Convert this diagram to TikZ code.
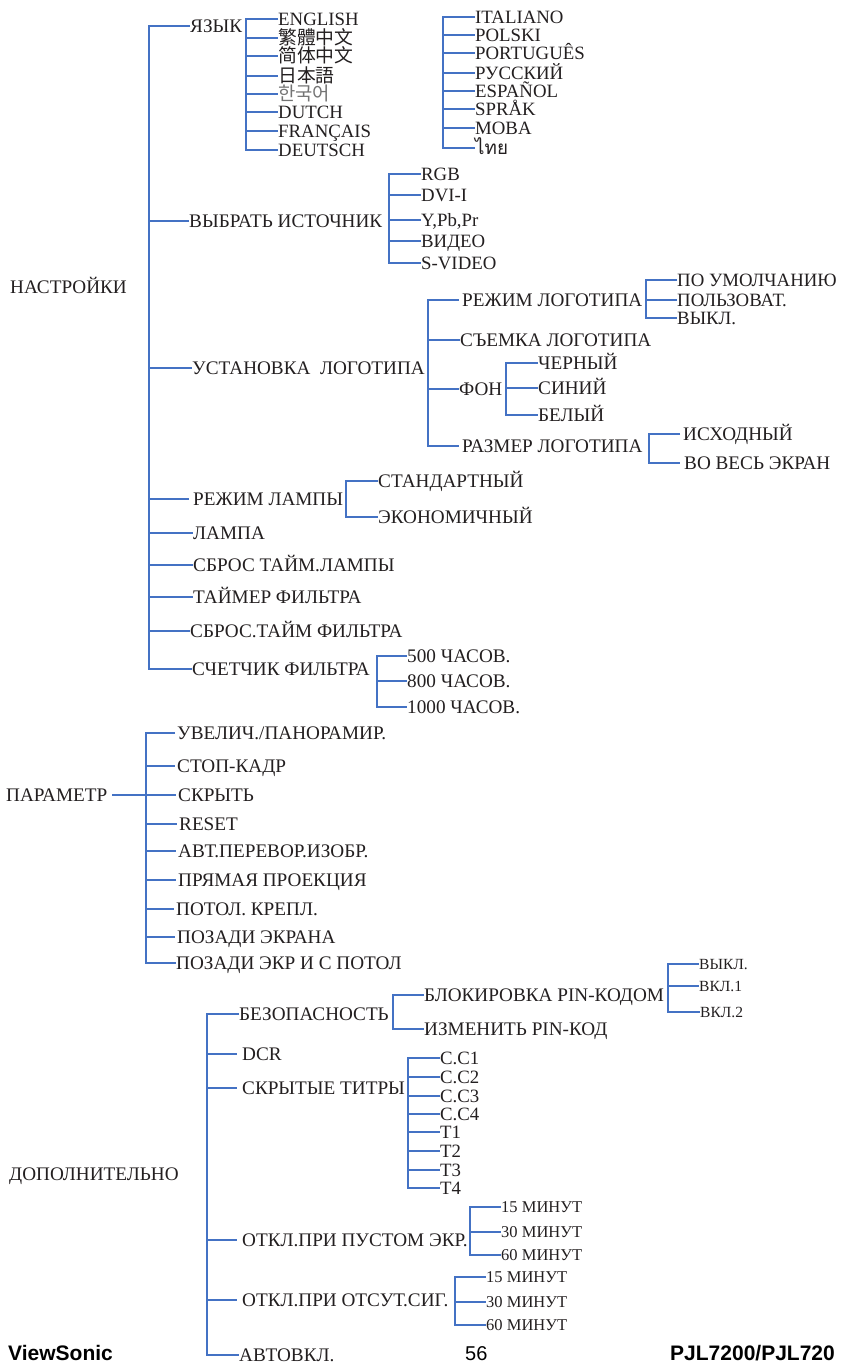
\documentclass[tikz,border=0pt]{standalone}
\usepackage{fontspec}
\setmainfont{Liberation Serif}
\newfontfamily\footsans{Liberation Sans}
\newfontfamily\cjkTC{Noto Sans CJK TC}
\newfontfamily\cjkSC{Noto Sans CJK SC}
\newfontfamily\cjkJP{Noto Sans CJK JP}
\newfontfamily\cjkKR{Noto Sans CJK KR}
\newfontfamily\thaiF[Script=Thai]{Loma}
\definecolor{lblue}{RGB}{68,114,196}
\definecolor{txt}{RGB}{35,31,32}
\newcommand\fMain{\fontsize{19.2}{21}\selectfont}
\newcommand\fList{\fontsize{18.8}{20}\selectfont}
\newcommand\fSmall{\fontsize{15.5}{17}\selectfont}
\newcommand\fMin{\fontsize{16.5}{18}\selectfont}
\newcommand\fFoot{\fontsize{21}{24}\selectfont}
\tikzset{
  t/.style={anchor=west, inner sep=0pt, text height=12.7pt, text depth=0pt, font=\fMain, text=txt},
  tl/.style={t, font=\fList, text height=12.4pt},
  ts/.style={t, font=\fSmall, text height=10.3pt},
  tm/.style={t, font=\fMin, text height=10.9pt},
  tf/.style={anchor=west, inner sep=0pt, text height=15pt, text depth=0pt, font=\fFoot\footsans, text=black},
  br/.style={draw=lblue, line width=1.8pt},
}
\begin{document}
\begin{tikzpicture}[x=1pt,y=-1pt]
\useasboundingbox (0,0) rectangle (840,1364);

% ---------------- НАСТРОЙКИ ----------------
\node[t] (nas) at (10,287) {НАСТРОЙКИ};
\node[t] (lang) at (190,26) {ЯЗЫК};
\node[t] (src) at (189,221) {ВЫБРАТЬ ИСТОЧНИК};
\node[t] (logo) at (192,368) {УСТАНОВКА\ \ ЛОГОТИПА};
\node[t] (lmode) at (193,499) {РЕЖИМ ЛАМПЫ};
\node[t] (lamp) at (193,533) {ЛАМПА};
\node[t] (lreset) at (193,565) {СБРОС ТАЙМ.ЛАМПЫ};
\node[t] (ftimer) at (193,597) {ТАЙМЕР ФИЛЬТРА};
\node[t] (freset) at (190,631) {СБРОС.ТАЙМ ФИЛЬТРА};
\node[t] (fcount) at (192,669) {СЧЕТЧИК ФИЛЬТРА};
\coordinate (vA) at (149,0);
\draw[br] (lang.west) -| (vA |- fcount.west) -- (fcount.west);
\foreach \n in {src,logo,lamp,lreset,ftimer,freset} \draw[br] (vA |- \n.west) -- (\n.west);
\draw[br] (vA |- lmode.west) -- ([xshift=-4pt]lmode.west);

% language column 1
\node[tl] (en) at (278,19) {ENGLISH};
\node[tl] (tw) at (278,38) {\cjkTC 繁體中文};
\node[tl] (cn) at (278,56) {\cjkSC 简体中文};
\node[tl] (jp) at (278,76) {\cjkJP 日本語};
\node[tl, text=black!55] (kr) at (278,94) {\cjkKR 한국어};
\node[tl] (du) at (278,112) {DUTCH};
\node[tl] (fr) at (278,131) {FRANÇAIS};
\node[tl] (de) at (278,150) {DEUTSCH};
\coordinate (bL1) at (246,0);
\draw[br] (en.west) -| (bL1 |- de.west) -- (de.west);
\foreach \n in {tw,cn,jp,kr,du,fr} \draw[br] (bL1 |- \n.west) -- (\n.west);

% language column 2
\node[tl] (it) at (475,17) {ITALIANO};
\node[tl] (pl) at (475,35) {POLSKI};
\node[tl] (pt) at (475,53) {PORTUGUÊS};
\node[tl] (ru) at (475,73) {РУССКИЙ};
\node[tl] (es) at (475,91) {ESPAÑOL};
\node[tl] (sv) at (475,109) {SPRÅK};
\node[tl] (mo) at (475,128) {MOBA};
\node[tl] (th) at (475,148) {\thaiF ไทย};
\coordinate (bL2) at (443,0);
\draw[br] (it.west) -| (bL2 |- th.west) -- (th.west);
\foreach \n in {pl,pt,ru,es,sv,mo} \draw[br] (bL2 |- \n.west) -- (\n.west);

% source
\node[tl] (rgb) at (421,174) {RGB};
\node[tl] (dvi) at (421,195) {DVI-I};
\node[tl] (ypb) at (421,220) {Y,Pb,Pr};
\node[tl] (vid) at (421,241) {ВИДЕО};
\node[tl] (svid) at (421,263) {S-VIDEO};
\coordinate (bS) at (389,0);
\draw[br] (rgb.west) -| (bS |- svid.west) -- (svid.west);
\foreach \n in {dvi,ypb,vid} \draw[br] (bS |- \n.west) -- (\n.west);

% logo
\node[t] (lm) at (462,300) {РЕЖИМ ЛОГОТИПА};
\node[t] (lc) at (460,340) {СЪЕМКА ЛОГОТИПА};
\node[t] (bg) at (459,389) {ФОН};
\node[t] (ls) at (462,446) {РАЗМЕР ЛОГОТИПА};
\coordinate (bG) at (428,0);
\draw[br] ([xshift=-3pt]lm.west) -| (bG |- ls.west) -- ([xshift=-3pt]ls.west);
\foreach \n in {lc,bg} \draw[br] (bG |- \n.west) -- (\n.west);

\node[tl] (lm1) at (677,280) {ПО УМОЛЧАНИЮ};
\node[tl] (lm2) at (677,300) {ПОЛЬЗОВАТ.};
\node[tl] (lm3) at (677,318) {ВЫКЛ.};
\coordinate (bM) at (646,0);
\draw[br] (lm1.west) -| (bM |- lm3.west) -- (lm3.west);
\draw[br] (bM |- lm2.west) -- (lm2.west);

\node[t] (bg1) at (538,363) {ЧЕРНЫЙ};
\node[t] (bg2) at (538,388) {СИНИЙ};
\node[t] (bg3) at (538,415) {БЕЛЫЙ};
\coordinate (bB) at (506,0);
\draw[br] (bg1.west) -| (bB |- bg3.west) -- (bg3.west);
\draw[br] (bB |- bg2.west) -- (bg2.west);

\node[t] (ls1) at (683,434) {ИСХОДНЫЙ};
\node[t] (ls2) at (684,463) {ВО ВЕСЬ ЭКРАН};
\coordinate (bZ) at (649,0);
\draw[br] ([xshift=-3pt]ls1.west) -| (bZ |- ls2.west) -- ([xshift=-4pt]ls2.west);

% lamp mode
\node[t] (lm4) at (378,481) {СТАНДАРТНЫЙ};
\node[t] (lm5) at (378,517) {ЭКОНОМИЧНЫЙ};
\coordinate (bP) at (346,0);
\draw[br] (lm4.west) -| (bP |- lm5.west) -- (lm5.west);

% filter counter
\node[t] (h5) at (407,656) {500 ЧАСОВ.};
\node[t] (h8) at (407,681) {800 ЧАСОВ.};
\node[t] (h10) at (407,707) {1000 ЧАСОВ.};
\coordinate (bH) at (377,0);
\draw[br] (h5.west) -| (bH |- h10.west) -- (h10.west);
\draw[br] (bH |- h8.west) -- (h8.west);

% ---------------- ПАРАМЕТР ----------------
\node[t] (par) at (6,795) {ПАРАМЕТР};
\node[t] (p1) at (177,733) {УВЕЛИЧ./ПАНОРАМИР.};
\node[t] (p2) at (177,766) {СТОП-КАДР};
\node[t] (p3) at (178,795) {СКРЫТЬ};
\node[t] (p4) at (179,824) {RESET};
\node[t] (p5) at (178,851) {АВТ.ПЕРЕВОР.ИЗОБР.};
\node[t] (p6) at (178,880) {ПРЯМАЯ ПРОЕКЦИЯ};
\node[t] (p7) at (176,909) {ПОТОЛ. КРЕПЛ.};
\node[t] (p8) at (177,937) {ПОЗАДИ ЭКРАНА};
\node[t] (p9) at (176,963) {ПОЗАДИ ЭКР И С ПОТОЛ};
\coordinate (vP) at (146,0);
\draw[br] ([xshift=5pt]par.east) -- (vP |- par.east);
\draw[br] ([xshift=-2pt]p1.west) -| (vP |- p9.west) -- (p9.west);
\foreach \n in {p2,p3,p4,p5,p6,p7,p8} \draw[br] (vP |- \n.west) -- ([xshift=-2pt]\n.west);

% ---------------- ДОПОЛНИТЕЛЬНО ----------------
\node[t] (ext) at (9,1174) {ДОПОЛНИТЕЛЬНО};
\node[t] (sec) at (239,1014) {БЕЗОПАСНОСТЬ};
\node[t] (dcr) at (242,1054) {DCR};
\node[t] (cc) at (242,1088) {СКРЫТЫЕ ТИТРЫ};
\node[t] (blank) at (242,1240) {ОТКЛ.ПРИ ПУСТОМ ЭКР.};
\node[t] (nosig) at (242,1300) {ОТКЛ.ПРИ ОТСУТ.СИГ.};
\node[t] (auto) at (239,1355) {АВТОВКЛ.};
\coordinate (vD) at (207,0);
\draw[br] (sec.west) -| (vD |- auto.west) -- (auto.west);
\foreach \n in {dcr,cc,blank,nosig} \draw[br] (vD |- \n.west) -- ([xshift=-5pt]\n.west);

\node[t] (pin) at (424,995) {БЛОКИРОВКА PIN-КОДОМ};
\node[t] (chpin) at (424,1029) {ИЗМЕНИТЬ PIN-КОД};
\coordinate (bQ) at (393,0);
\draw[br] (pin.west) -| (bQ |- chpin.west) -- (chpin.west);

\node[ts] (off) at (699,964) {ВЫКЛ.};
\node[ts] (on1) at (699,986) {ВКЛ.1};
\node[ts] (on2) at (700,1012) {ВКЛ.2};
\coordinate (bK) at (668,0);
\draw[br] (off.west) -| (bK |- on2.west) -- (on2.west);
\draw[br] (bK |- on1.west) -- (on1.west);

\node[tl] (c1) at (440,1058) {C.C1};
\node[tl] (c2) at (440,1077) {C.C2};
\node[tl] (c3) at (440,1096) {C.C3};
\node[tl] (c4) at (440,1114) {C.C4};
\node[tl] (t1) at (440,1132) {T1};
\node[tl] (t2) at (440,1151) {T2};
\node[tl] (t3) at (440,1170) {T3};
\node[tl] (t4) at (440,1188) {T4};
\coordinate (bC) at (408,0);
\draw[br] (c1.west) -| (bC |- t4.west) -- (t4.west);
\foreach \n in {c2,c3,c4,t1,t2,t3} \draw[br] (bC |- \n.west) -- (\n.west);

\node[tm] (m15a) at (501,1207) {15 МИНУТ};
\node[tm] (m30a) at (501,1232) {30 МИНУТ};
\node[tm] (m60a) at (501,1255) {60 МИНУТ};
\coordinate (bE) at (470,0);
\draw[br] (m15a.west) -| (bE |- m60a.west) -- (m60a.west);
\draw[br] (bE |- m30a.west) -- (m30a.west);

\node[tm] (m15b) at (486,1277) {15 МИНУТ};
\node[tm] (m30b) at (486,1302) {30 МИНУТ};
\node[tm] (m60b) at (486,1325) {60 МИНУТ};
\coordinate (bN) at (455,0);
\draw[br] (m15b.west) -| (bN |- m60b.west) -- (m60b.west);
\draw[br] (bN |- m30b.west) -- (m30b.west);

% ---------------- footer ----------------
\node[tf, font=\fFoot\footsans\bfseries] (vs) at (8,1353) {ViewSonic};
\node[tf, font=\fontsize{20}{22}\selectfont\footsans] (pg) at (465,1353) {56};
\node[tf, font=\fFoot\footsans\bfseries] (model) at (670,1353) {PJL7200/PJL720};
\end{tikzpicture}
\end{document}
